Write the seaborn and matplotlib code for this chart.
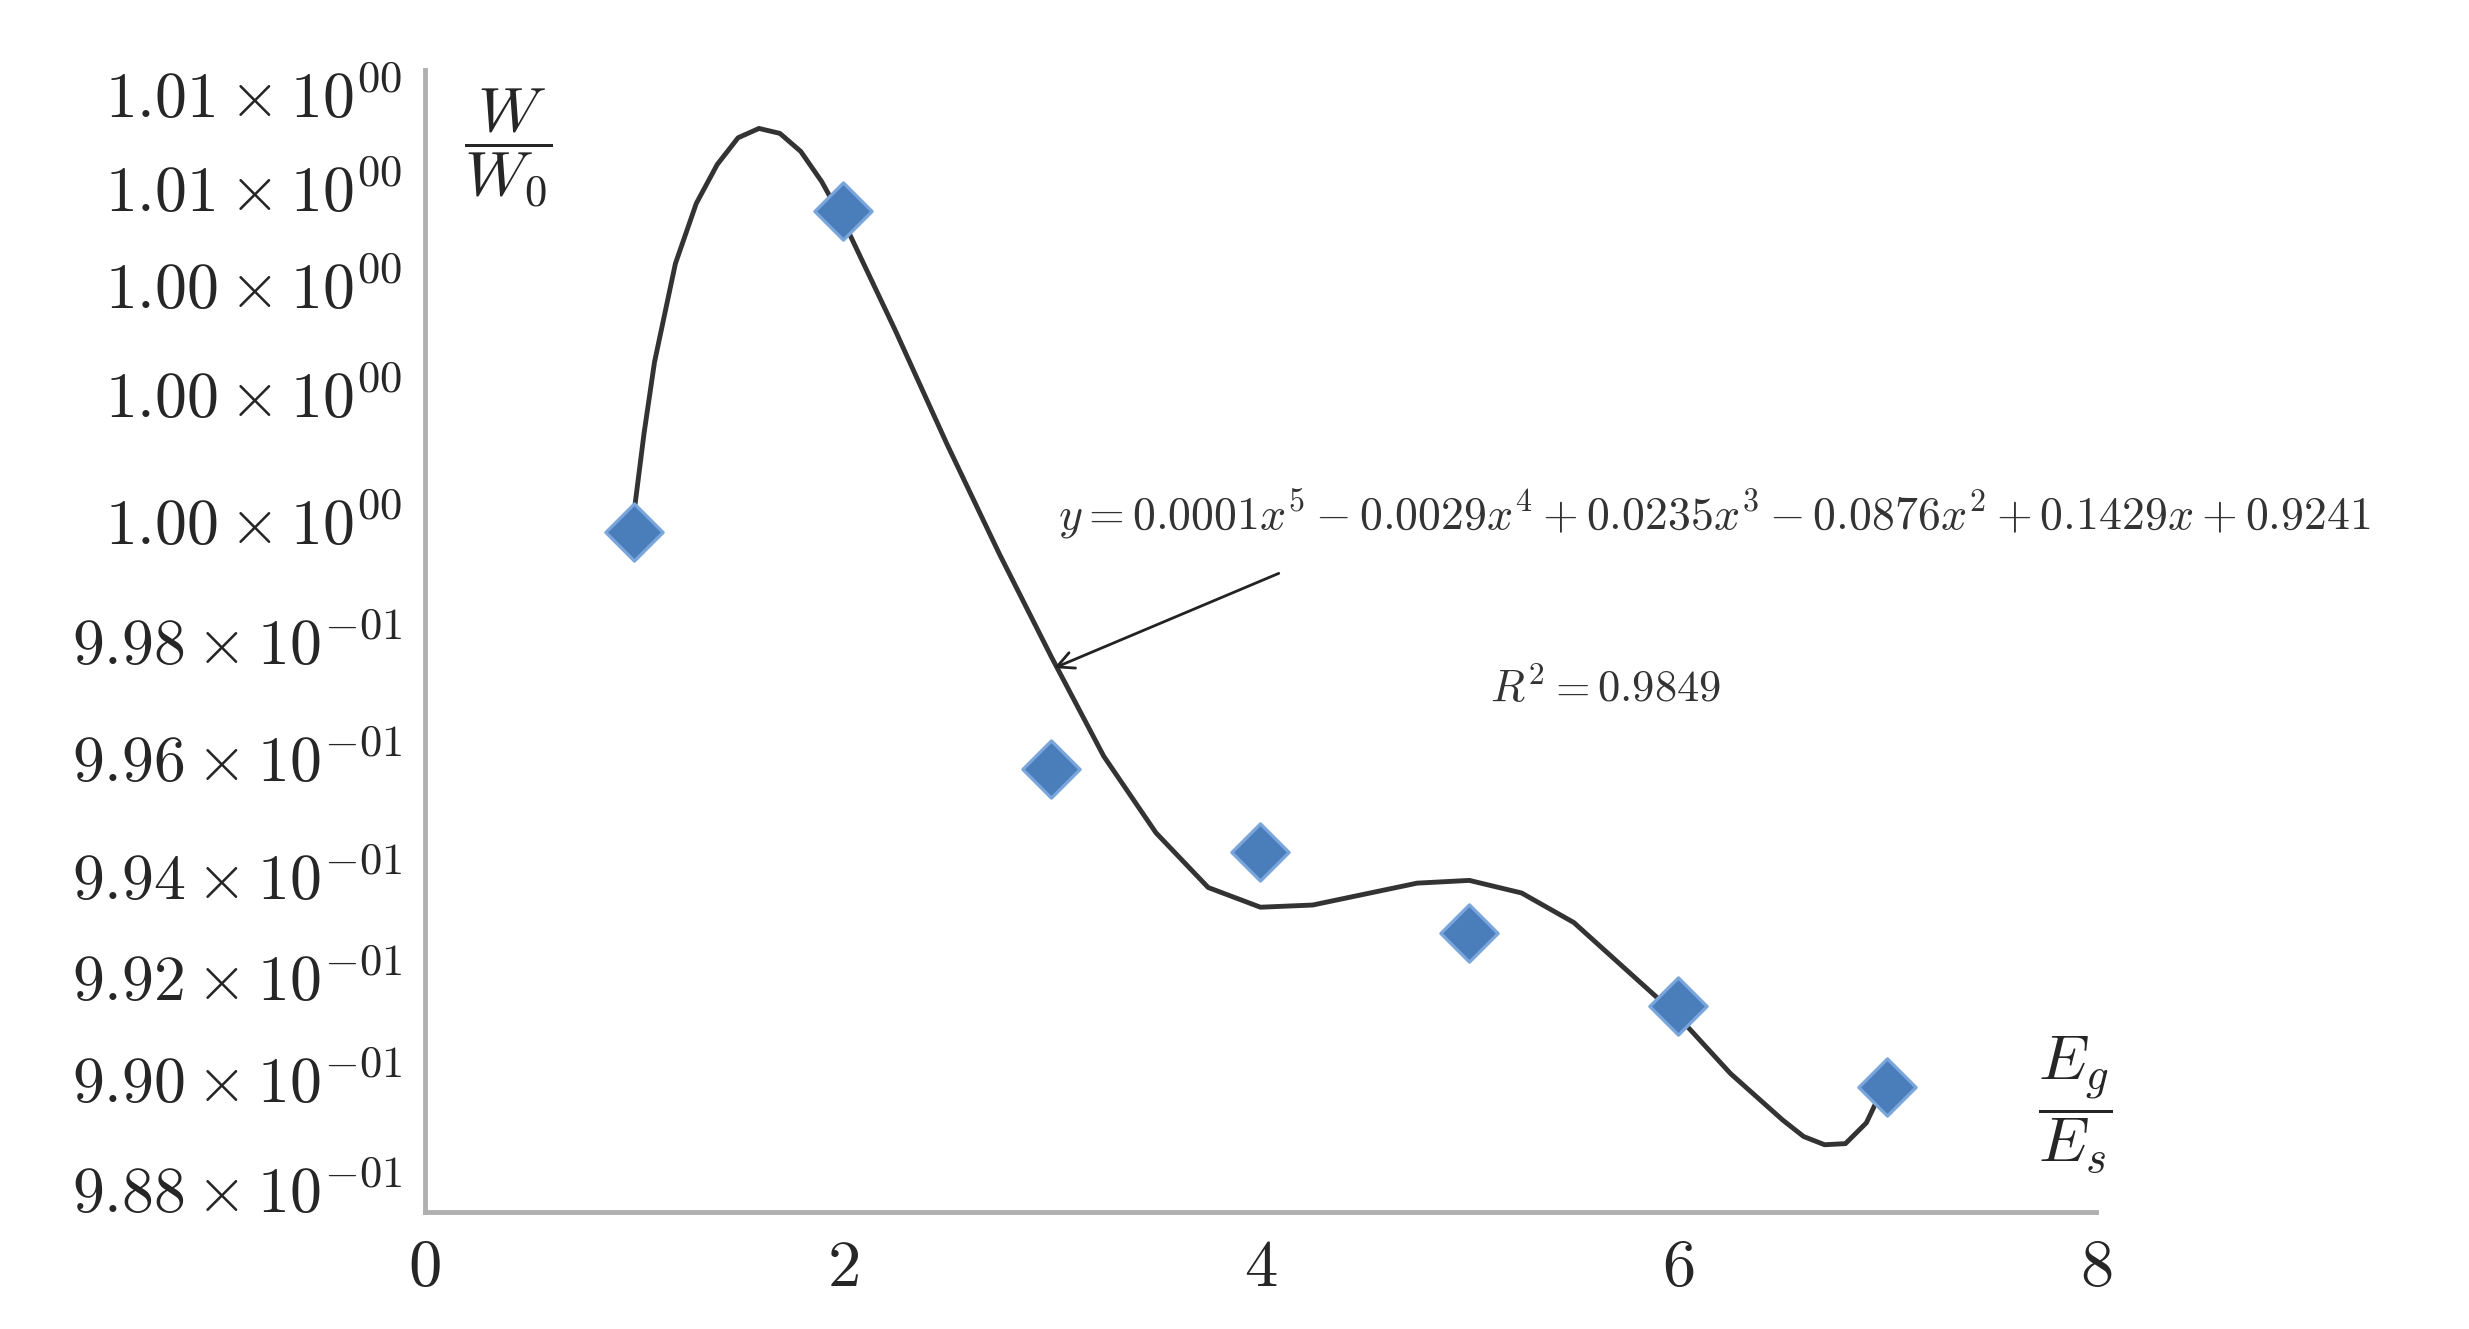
import matplotlib
matplotlib.use("Agg")
import matplotlib.pyplot as plt
import seaborn as sns

x_pts = [1, 2, 3, 4, 5, 6, 7]
y_pts = [1.00000, 1.00586, 0.99566, 0.99414, 0.99266, 0.99134, 0.98986]

curve_x = [1.0, 1.05, 1.1, 1.2, 1.3, 1.4, 1.5, 1.6, 1.7, 1.8, 1.9, 2.0, 2.25, 2.5, 2.75, 3.0, 3.25, 3.5, 3.75, 4.0, 4.25, 4.5, 4.75, 5.0, 5.25, 5.5, 5.75, 6.0, 6.25, 6.5, 6.6, 6.7, 6.8, 6.9, 7.0]
curve_y = [1.00029, 1.00180, 1.00310, 1.00490, 1.00600, 1.00671, 1.00720, 1.00737, 1.00728, 1.00695, 1.00640, 1.00571, 1.00370, 1.00160, 0.99960, 0.99771, 0.99590, 0.99450, 0.99350, 0.99314, 0.99318, 0.99338, 0.99358, 0.99363, 0.99340, 0.99286, 0.99200, 0.99114, 0.99010, 0.98925, 0.98895, 0.98880, 0.98882, 0.98920, 0.99000]

ytick_vals = [0.988, 0.990, 0.99186, 0.99371, 0.99586, 0.998, 1.0002, 1.00251, 1.00451, 1.00629, 1.008]
ytick_labels = [r"$9.88\times10^{-01}$", r"$9.90\times10^{-01}$", r"$9.92\times10^{-01}$",
                r"$9.94\times10^{-01}$", r"$9.96\times10^{-01}$", r"$9.98\times10^{-01}$",
                r"$1.00\times10^{00}$", r"$1.00\times10^{00}$", r"$1.00\times10^{00}$",
                r"$1.01\times10^{00}$", r"$1.01\times10^{00}$"]
xtick_vals = [0, 2, 4, 6, 8]

sns.set_style("white")
plt.rcParams["mathtext.fontset"] = "cm"
plt.rcParams["font.family"] = ["DejaVu Serif"]

fig = plt.figure(figsize=(24.69, 13.29), dpi=100)
ax = fig.add_axes([0.172, 0.088, 0.677, 0.859])

sns.lineplot(x=curve_x, y=curve_y, ax=ax, color="#333333", lw=3.5)
sns.scatterplot(x=x_pts, y=y_pts, ax=ax, marker="D", s=850, color="#4a7ebb",
                edgecolor="#7aa6dc", zorder=3)

ax.set_xlim(0, 8)
ax.set_ylim(0.98757, 1.00843)
ax.set_yticks(ytick_vals)
ax.set_yticklabels(ytick_labels, fontsize=46)
ax.set_xticks(xtick_vals)
ax.set_xticklabels([rf"${v}$" for v in xtick_vals], fontsize=48)
ax.tick_params(length=0, pad=16)
for s in ["top", "right"]:
    ax.spines[s].set_visible(False)
for s in ["left", "bottom"]:
    ax.spines[s].set_color("#b0b0b0")
    ax.spines[s].set_linewidth(3.5)

ax.text(0.4, 1.0070, r"$\dfrac{W}{W_0}$", fontsize=46, ha="center", va="center")
ax.text(7.9, 0.9895, r"$\dfrac{E_g}{E_s}$", fontsize=46, ha="center", va="center")
ax.text(3.03, 1.0003, r"$y = 0.0001x^5 - 0.0029x^4 + 0.0235x^3 - 0.0876x^2 + 0.1429x + 0.9241$",
        fontsize=33, ha="left", va="center", color="#333333")
ax.text(5.65, 0.99713, r"$R^2 = 0.9849$", fontsize=32, ha="center", va="center", color="#333333")
ax.annotate("", xy=(3.0, 0.99749), xytext=(4.1, 0.99926),
            arrowprops=dict(arrowstyle="->", color="#222222", lw=2, mutation_scale=30))

fig.savefig("out.png", dpi=100, facecolor="white")
